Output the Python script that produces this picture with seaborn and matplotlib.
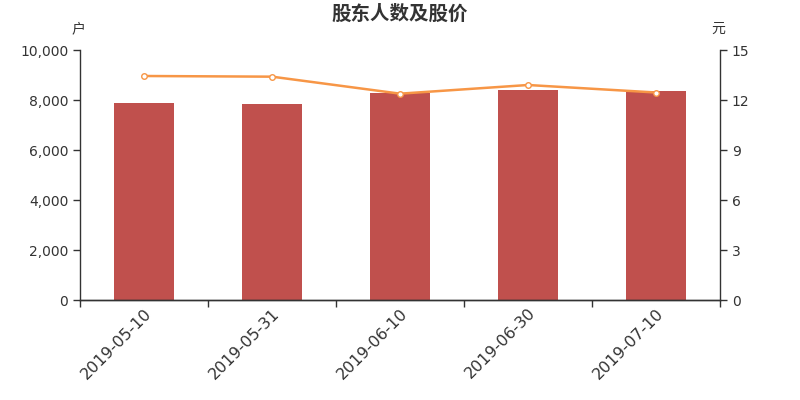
import matplotlib
matplotlib.use("Agg")
import matplotlib.pyplot as plt
from matplotlib.ticker import FuncFormatter, FixedLocator
import seaborn as sns
import pandas as pd

dates = ["2019-05-10", "2019-05-31", "2019-06-10", "2019-06-30", "2019-07-10"]
holders = [7880, 7840, 8290, 8390, 8380]
price = [13.44, 13.40, 12.38, 12.90, 12.45]

df = pd.DataFrame({"date": dates, "holders": holders, "price": price})

sns.set_style("white")
plt.rcParams["font.family"] = ["DejaVu Sans", "Noto Sans CJK SC"]
cjk = ["Noto Sans CJK SC", "DejaVu Sans"]

fig = plt.figure(figsize=(8, 4), dpi=100)
ax = fig.add_axes([0.1, 0.25, 0.8, 0.625])

sns.barplot(data=df, x="date", y="holders", color="#c0504d", saturation=1,
            width=0.47, linewidth=0, ax=ax)
ax.set_ylim(0, 10000)
ax.set_xlim(-0.5, len(dates) - 0.5)
ax.yaxis.set_major_locator(FixedLocator([0, 2000, 4000, 6000, 8000, 10000]))
ax.yaxis.set_major_formatter(FuncFormatter(lambda v, p: f"{int(v):,}"))

ax2 = ax.twinx()
sns.lineplot(x=list(range(len(dates))), y=price, color="#f79646", linewidth=1.8,
             marker="o", markersize=4, markerfacecolor="white",
             markeredgecolor="#f79646", markeredgewidth=1, ax=ax2)
ax2.set_ylim(0, 15)
ax2.yaxis.set_major_locator(FixedLocator([0, 3, 6, 9, 12, 15]))

dark = "#333333"
for a in (ax, ax2):
    a.spines["top"].set_visible(False)
    for s in ("left", "right", "bottom"):
        a.spines[s].set_color(dark)
        a.spines[s].set_linewidth(1)
    a.set_xlabel("")
    a.set_ylabel("")
    a.tick_params(axis="y", colors=dark, labelsize=10, length=5, width=1,
                  direction="out")
ax.spines["right"].set_visible(False)
ax2.spines["left"].set_visible(False)
ax.tick_params(axis="y", left=True)
ax2.tick_params(axis="y", right=True)

ax.set_xticks(range(len(dates)))
ax.set_xticklabels(dates, rotation=45, ha="right", rotation_mode="anchor",
                   fontsize=11.5, color=dark)
ax.tick_params(axis="x", which="major", length=0, pad=4)
ax.set_xticks([i - 0.5 for i in range(len(dates) + 1)], minor=True)
ax.tick_params(axis="x", which="minor", length=5, width=1, color=dark,
               bottom=True, direction="out")

fig.text(0.5, 0.965, "股东人数及股价", ha="center", va="center",
         fontsize=14, fontweight="bold", color=dark, family=cjk)
fig.text(0.098, 0.928, "户", ha="center", va="center", fontsize=10,
         color=dark, family=cjk)
fig.text(0.898, 0.928, "元", ha="center", va="center", fontsize=10,
         color=dark, family=cjk)

fig.savefig("out.png", dpi=100)
